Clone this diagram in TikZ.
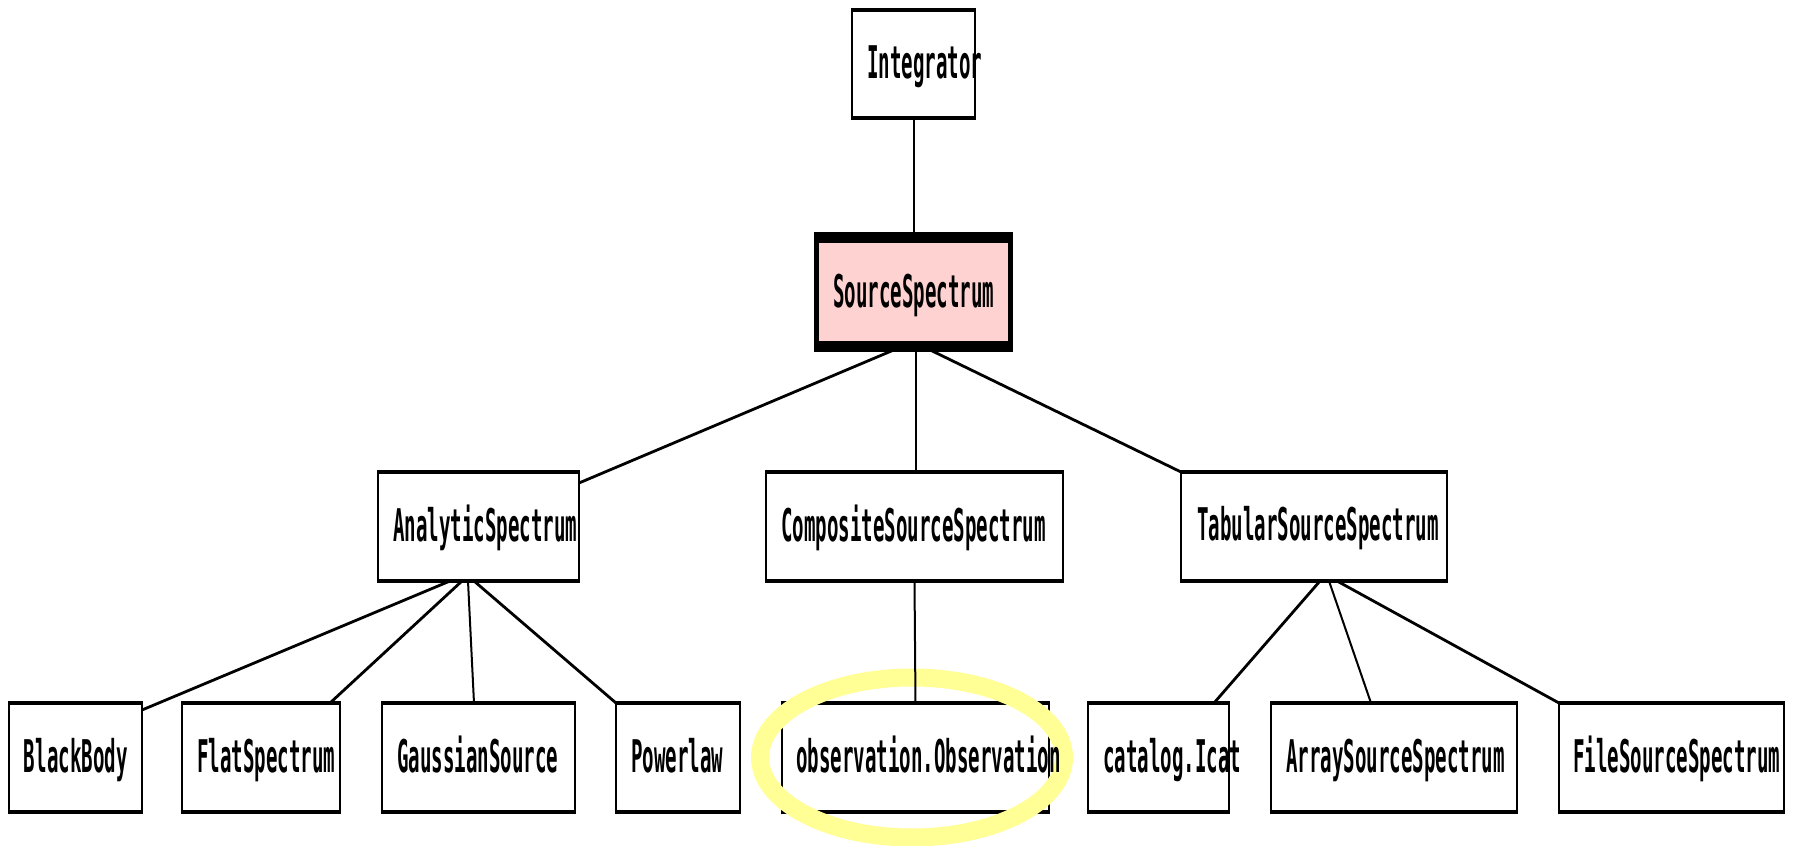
\documentclass[tikz,border=0pt]{standalone}
\usepackage{fontspec}
\usetikzlibrary{shapes.geometric}
\newfontfamily\pixfont[FakeStretch=0.425]{DejaVu Sans Mono}
\definecolor{basepink}{RGB}{255,210,210}
\definecolor{marker}{RGB}{255,255,150}

% frame of a class box: thin sides, heavier top and bottom
\newcommand\classframe[3]{%
  \draw[line width=#2] (#1.north west) -- (#1.south west)
                       (#1.north east) -- (#1.south east);
  \draw[line width=#3] ([xshift=-0.5*#2]#1.north west) -- ([xshift=0.5*#2]#1.north east)
                       ([xshift=-0.5*#2]#1.south west) -- ([xshift=0.5*#2]#1.south east);
}

\begin{document}
\begin{tikzpicture}[x=0.5pt,y=-0.5pt,
  cls/.style={rectangle, fill=white, inner sep=0pt, outer sep=0pt,
              minimum height=54.5pt},
  clsname/.style={anchor=base west, inner sep=0pt, outer sep=0pt,
                  font=\fontsize{22.5}{23}\selectfont\pixfont\bfseries},
  link/.style={line width=1.4pt},
  vlink/.style={line width=1pt}]

\useasboundingbox[fill=white] (0,0) rectangle (1796,846);

% class boxes
\node[cls, minimum width=61.5pt, minimum height=54pt] (I) at (913.5,64) {};
\node[cls, fill=basepink, minimum width=97pt] (S) at (913.5,292) {};
\node[cls, minimum width=100.5pt] (A) at (478.5,526.5) {};
\node[cls, minimum width=148.5pt] (C) at (914.5,526.5) {};
\node[cls, minimum width=133pt]   (T) at (1314,526.5) {};
\node[cls, minimum width=66.5pt]  (BB) at (75.5,757.5) {};
\node[cls, minimum width=79pt]    (FS) at (261,757.5) {};
\node[cls, minimum width=96.5pt]  (GS) at (478.5,757.5) {};
\node[cls, minimum width=62pt]    (PL) at (678,757.5) {};
\node[cls, minimum width=133.5pt] (OB) at (915.5,757.5) {};
\node[cls, minimum width=70.5pt]  (IC) at (1158.5,757.5) {};
\node[cls, minimum width=123pt]   (AS) at (1394,757.5) {};
\node[cls, minimum width=112.5pt] (FF) at (1671.5,757.5) {};

\foreach \n in {I,A,C,T,BB,FS,GS,PL,OB,IC,AS,FF}{\classframe{\n}{1pt}{2pt}}
\classframe{S}{2.5pt}{5.5pt}

% highlight ring around observation.Observation
\node[ellipse, draw=marker, line width=9pt, inner sep=0pt,
      minimum width=152pt, minimum height=80pt] (ring) at (912,757.5) {};

% inheritance links
\draw[vlink] (I.south) -- (S.north);
\draw[link]  ([xshift=-5.75pt]S.south) -- ([yshift=-5.5pt]A.north east);
\draw[vlink] ([xshift=1pt]S.south) -- ([xshift=0.5pt]C.north);
\draw[link]  ([xshift=4.75pt]S.south) -- (T.north west);
\draw[vlink] (C.south) -- (OB.north);

\draw[link]  ([xshift=-14.25pt]A.south) -- ([yshift=-3.5pt]BB.north east);
\draw[link]  ([xshift=-8.25pt]A.south) -- ([xshift=34.5pt]FS.north);
\draw[vlink] ([xshift=-5.25pt]A.south) -- ([xshift=-2.25pt]GS.north);
\draw[link]  ([xshift=-2.25pt]A.south) -- (PL.north west);

\draw[link]  ([xshift=3pt]T.south) -- ([xshift=-7.5pt]IC.north east);
\draw[vlink] ([xshift=7.5pt]T.south) -- ([xshift=-11.5pt]AS.north);
\draw[link]  ([xshift=11.5pt]T.south) -- (FF.north west);

% class names
\node[clsname] (tI)  at ([xshift=7.5pt,yshift=-7pt]I.west)  {Integrator};
\node[clsname] (tS)  at ([xshift=8.25pt,yshift=-7.5pt]S.west) {SourceSpectrum};
\node[clsname] (tA)  at ([xshift=7.5pt,yshift=-7.5pt]A.west)  {AnalyticSpectrum};
\node[clsname] (tC)  at ([xshift=7.5pt,yshift=-7.5pt]C.west)  {CompositeSourceSpectrum};
\node[clsname] (tT)  at ([xshift=8pt,yshift=-7pt]T.west)      {TabularSourceSpectrum};
\node[clsname] (tBB) at ([xshift=7.5pt,yshift=-7.5pt]BB.west) {BlackBody};
\node[clsname] (tFS) at ([xshift=7.5pt,yshift=-7.5pt]FS.west) {FlatSpectrum};
\node[clsname] (tGS) at ([xshift=7.5pt,yshift=-7.5pt]GS.west) {GaussianSource};
\node[clsname] (tPL) at ([xshift=7.5pt,yshift=-7.5pt]PL.west) {Powerlaw};
\node[clsname] (tOB) at ([xshift=7pt,yshift=-7.5pt]OB.west)   {observation.Observation};
\node[clsname] (tIC) at ([xshift=7.5pt,yshift=-7.5pt]IC.west) {catalog.Icat};
\node[clsname] (tAS) at ([xshift=7.5pt,yshift=-7.5pt]AS.west) {ArraySourceSpectrum};
\node[clsname] (tFF) at ([xshift=7pt,yshift=-7.5pt]FF.west)   {FileSourceSpectrum};

\end{tikzpicture}
\end{document}
